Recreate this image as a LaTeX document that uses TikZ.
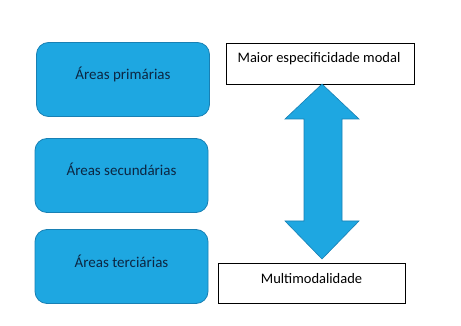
\documentclass[tikz,border=0pt]{standalone}
\usepackage{fontspec}
\setmainfont{Carlito}
\definecolor{areafill}{RGB}{30,167,225}
\definecolor{areaedge}{RGB}{24,128,180}
\definecolor{areatext}{RGB}{12,38,66}
\tikzset{
  areabox/.style={draw=areaedge,fill=areafill,rounded corners=12pt,line width=0.8pt,
    minimum width=173pt,minimum height=74pt,text height=10pt,text depth=9pt,
    text=areatext,font=\fontsize{15}{17}\selectfont},
  notebox/.style={draw=black,fill=white,line width=0.8pt},
  notetext/.style={font=\fontsize{14.5}{17}\selectfont}
}
\begin{document}
\begin{tikzpicture}[x=1pt,y=-1pt]
\useasboundingbox (0,0) rectangle (461,326);
% left column
\node[areabox] (prim) at (123,79.5) {Áreas primárias};
\node[areabox] (sec) at (121.5,175.5) {Áreas secundárias};
\node[areabox] (terc) at (121.5,266.5) {Áreas terciárias};
% right column
\node[notebox,minimum width=188pt,minimum height=41pt] (maior) at (320,63.5) {};
\node[notetext] (maiortxt) at (319,59) {Maior especificidade modal};
\node[notebox,minimum width=187pt,minimum height=40pt] (multi) at (311.5,283) {};
\node[notetext] (multitxt) at (311.5,279) {Multimodalidade};
% double arrow
\fill[areafill,draw=areaedge,line width=0.6pt]
  (322,84) -- (359,119) -- (342,119) -- (342,221) -- (359,221)
  -- (322,259) -- (285,221) -- (304,221) -- (304,119) -- (285,119) -- cycle;
\end{tikzpicture}
\end{document}
